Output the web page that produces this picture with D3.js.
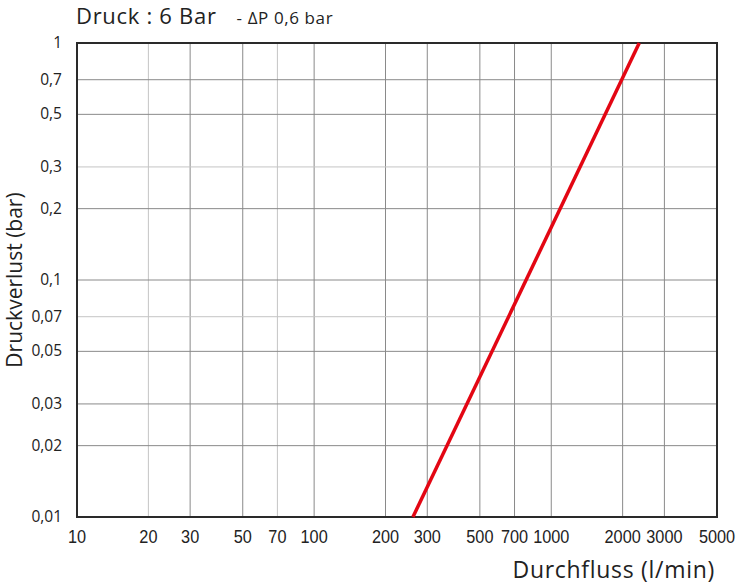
<!DOCTYPE html>
<meta charset="utf-8">
<script src="https://d3js.org/d3.v7.min.js"></script>
<style>
  body { margin: 0; background: #fff; }
</style>
<div id="chart"></div>
<script>

// values
var xTicks = [10, 20, 30, 50, 70, 100, 200, 300, 500, 700, 1000, 2000, 3000, 5000];
var yTicks = [0.01, 0.02, 0.03, 0.05, 0.07, 0.1, 0.2, 0.3, 0.5, 0.7, 1];
var yTickLabels = ["0,01", "0,02", "0,03", "0,05", "0,07", "0,1", "0,2", "0,3", "0,5", "0,7", "1"];
var lightX = [20, 70];
var lightY = [0.3, 0.07];
var flow = [261, 2350];
var drop = [0.01, 1];

var width = 737, height = 585;
var margin = {top: 43, right: 20, bottom: 68, left: 77};
var w = width - margin.left - margin.right,
    h = height - margin.top - margin.bottom;

var svg = d3.select("#chart")
  .append("svg")
    .attr("width", width)
    .attr("height", height);

var g = svg.append("g")
    .attr("transform", "translate(" + margin.left + "," + margin.top + ")");

var x = d3.scaleLog().domain([10, 5000]).range([0, w]);
var y = d3.scaleLog().domain([0.01, 1]).range([h, 0]);

// grid
g.selectAll(".vgrid")
  .data(xTicks.slice(1, -1))
  .enter().append("line")
    .attr("x1", function(d) { return x(d); })
    .attr("x2", function(d) { return x(d); })
    .attr("y1", 0)
    .attr("y2", h)
    .attr("stroke", function(d) { return lightX.indexOf(d) >= 0 ? "#c4c4c4" : "#8a8a8a"; })
    .attr("stroke-width", 1);

g.selectAll(".hgrid")
  .data(yTicks.slice(1, -1))
  .enter().append("line")
    .attr("x1", 0)
    .attr("x2", w)
    .attr("y1", function(d) { return y(d); })
    .attr("y2", function(d) { return y(d); })
    .attr("stroke", function(d) { return lightY.indexOf(d) >= 0 ? "#c4c4c4" : "#8a8a8a"; })
    .attr("stroke-width", 1);

// frame
g.append("rect")
  .attr("x", 0).attr("y", 0)
  .attr("width", w).attr("height", h)
  .attr("fill", "none")
  .attr("stroke", "#2a2a2a")
  .attr("stroke-width", 2);

// tick labels (narrow-looking digits, squeezed horizontally)
g.selectAll(".xlab")
  .data(xTicks)
  .enter().append("text")
    .attr("transform", function(d) { return "translate(" + x(d) + "," + (h + 26) + ") scale(0.88,1)"; })
    .attr("text-anchor", "middle")
    .style("font-family", "'Liberation Sans', Arial, sans-serif")
    .style("font-size", "18.5px")
    .style("fill", "#222")
    .text(function(d) { return d; });

g.selectAll(".ylab")
  .data(yTicks)
  .enter().append("text")
    .attr("x", -15)
    .attr("y", function(d) { return y(d) + 5; })
    .attr("text-anchor", "end")
    .style("font-family", "Open Sans, sans-serif")
    .style("font-size", "15.5px")
    .style("fill", "#222")
    .text(function(d, i) { return yTickLabels[i]; });

// curve
var line = d3.line()
  .x(function(d) { return x(d[0]); })
  .y(function(d) { return y(d[1]); });

g.append("path")
  .datum(d3.zip(flow, drop))
  .attr("fill", "none")
  .attr("stroke", "#e30613")
  .attr("stroke-width", 3.5)
  .attr("d", line);

// titles
var title = svg.append("text")
  .attr("x", 76)
  .attr("y", 24)
  .style("font-family", "Open Sans, sans-serif")
  .style("fill", "#222");
title.append("tspan").style("font-size", "22px").style("letter-spacing", "0.7px").text("Druck : 6 Bar");
title.append("tspan").attr("dx", 20).style("font-size", "17px").style("letter-spacing", "0.6px").text("- ΔP 0,6 bar");

svg.append("text")
  .attr("transform", "translate(22," + (margin.top + h / 2) + ") rotate(-90)")
  .attr("text-anchor", "middle")
  .style("font-family", "Open Sans, sans-serif")
  .style("font-size", "21px")
  .style("fill", "#222")
  .text("Druckverlust (bar)");

svg.append("text")
  .attr("x", margin.left + w - 2)
  .attr("y", 578)
  .attr("text-anchor", "end")
  .style("font-family", "Open Sans, sans-serif")
  .style("font-size", "23px")
  .style("letter-spacing", "0.7px")
  .text("Durchfluss (l/min)")
  .style("fill", "#222");

</script>
